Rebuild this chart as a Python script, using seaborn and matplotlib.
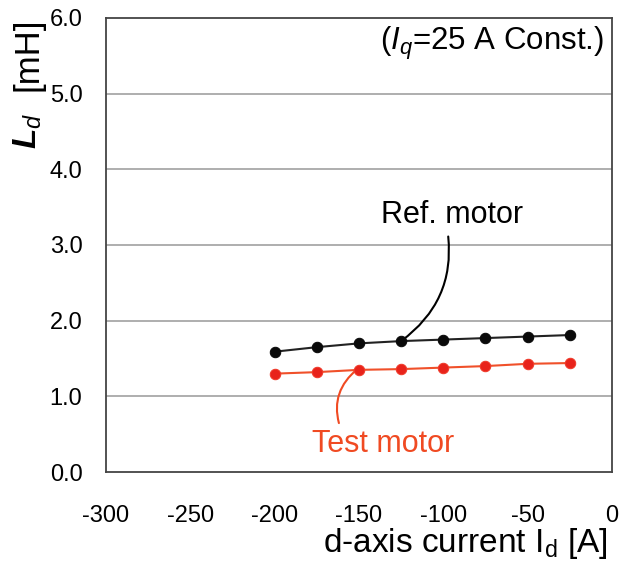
import matplotlib
matplotlib.use("Agg")
import matplotlib.pyplot as plt
import seaborn as sns
import pandas as pd

id_current = [-200, -175, -150, -125, -100, -75, -50, -25]
ld_ref = [1.59, 1.65, 1.70, 1.73, 1.75, 1.77, 1.79, 1.81]
ld_test = [1.30, 1.32, 1.35, 1.36, 1.38, 1.40, 1.43, 1.44]
x_ticks = [-300, -250, -200, -150, -100, -50, 0]
y_ticks = [0.0, 1.0, 2.0, 3.0, 4.0, 5.0, 6.0]

sns.set_theme(style="white")
plt.rcParams['font.family'] = ['Liberation Sans', 'DejaVu Sans']
plt.rcParams['text.color'] = 'black'
plt.rcParams['axes.labelcolor'] = 'black'
plt.rcParams['mathtext.fontset'] = 'custom'
plt.rcParams['mathtext.rm'] = 'Liberation Sans'
plt.rcParams['mathtext.it'] = 'Liberation Sans:italic'
plt.rcParams['mathtext.bf'] = 'Liberation Sans:bold'
plt.rcParams['mathtext.bfit'] = 'Liberation Sans:bold:italic'

df_ref = pd.DataFrame({"x": id_current, "y": ld_ref})
df_test = pd.DataFrame({"x": id_current, "y": ld_test})

fig = plt.figure(figsize=(6.2, 5.61), dpi=100)
ax = fig.add_axes([0.171, 0.1586, 0.816, 0.8094])

sns.lineplot(data=df_ref, x="x", y="y", ax=ax, color="#222222", lw=1.5,
             marker="o", markersize=7.5, markerfacecolor="#0a0a0a",
             markeredgecolor="#0a0a0a", zorder=4)
sns.lineplot(data=df_test, x="x", y="y", ax=ax, color="#f0502a", lw=1.5,
             marker="o", markersize=7.5, markerfacecolor="#e8231b",
             markeredgecolor="#f03a2a", zorder=4)

ax.set_xlim(-300, 0)
ax.set_ylim(0, 6)
ax.set_xticks(x_ticks)
ax.set_xticklabels([str(v) for v in x_ticks])
ax.set_yticks(y_ticks)
ax.set_yticklabels([f"{v:.1f}" for v in y_ticks])
ax.tick_params(axis="x", direction="in", length=6, width=1.2, color="#333333",
               pad=24, labelsize=17, labelcolor="black")
ax.tick_params(axis="y", direction="in", length=6, width=1.2, color="#333333",
               pad=17, labelsize=17, labelcolor="black")
for s in ax.spines.values():
    s.set_color("#444444")
    s.set_linewidth(1.3)
for yv in y_ticks[1:-1]:
    ax.axhline(yv, color="#a8a8a8", lw=1.3, zorder=1)

ax.set_xlabel("d-axis current I$_{\\mathrm{d}}$ [A]", fontsize=24, ha="right", va="center")
ax.xaxis.set_label_coords(0.992, -0.158)
ax.set_ylabel("")

fig.text(28 / 620, 1 - 131 / 561, r"$\mathbfit{L}_{\mathit{d}}$", rotation=90,
         fontsize=24, ha="center", va="center")
fig.text(28 / 620, 1 - 54 / 561, "[mH]", rotation=90,
         fontsize=25, ha="center", va="center")

ax.text(0.985, 0.945, r"($\mathit{I}_{\mathit{q}}$=25 A Const.)",
        transform=ax.transAxes, ha="right", va="center", fontsize=22.5)

ax.annotate("Ref. motor", xy=(-125, 1.73), xytext=(-95, 3.39),
            fontsize=22, ha="center", va="center", color="black",
            arrowprops=dict(arrowstyle="-", color="black", lw=1.5,
                            connectionstyle="arc3,rad=-0.3",
                            relpos=(0.47, 0.0), shrinkA=2, shrinkB=0))
ax.annotate("Test motor", xy=(-151, 1.36), xytext=(-135.5, 0.37),
            fontsize=22, ha="center", va="center", color="#f04a22",
            arrowprops=dict(arrowstyle="-", color="#f04a22", lw=1.5,
                            connectionstyle="arc3,rad=-0.35",
                            relpos=(0.2, 1.0), shrinkA=2, shrinkB=0))

fig.savefig("out.png", dpi=100)
